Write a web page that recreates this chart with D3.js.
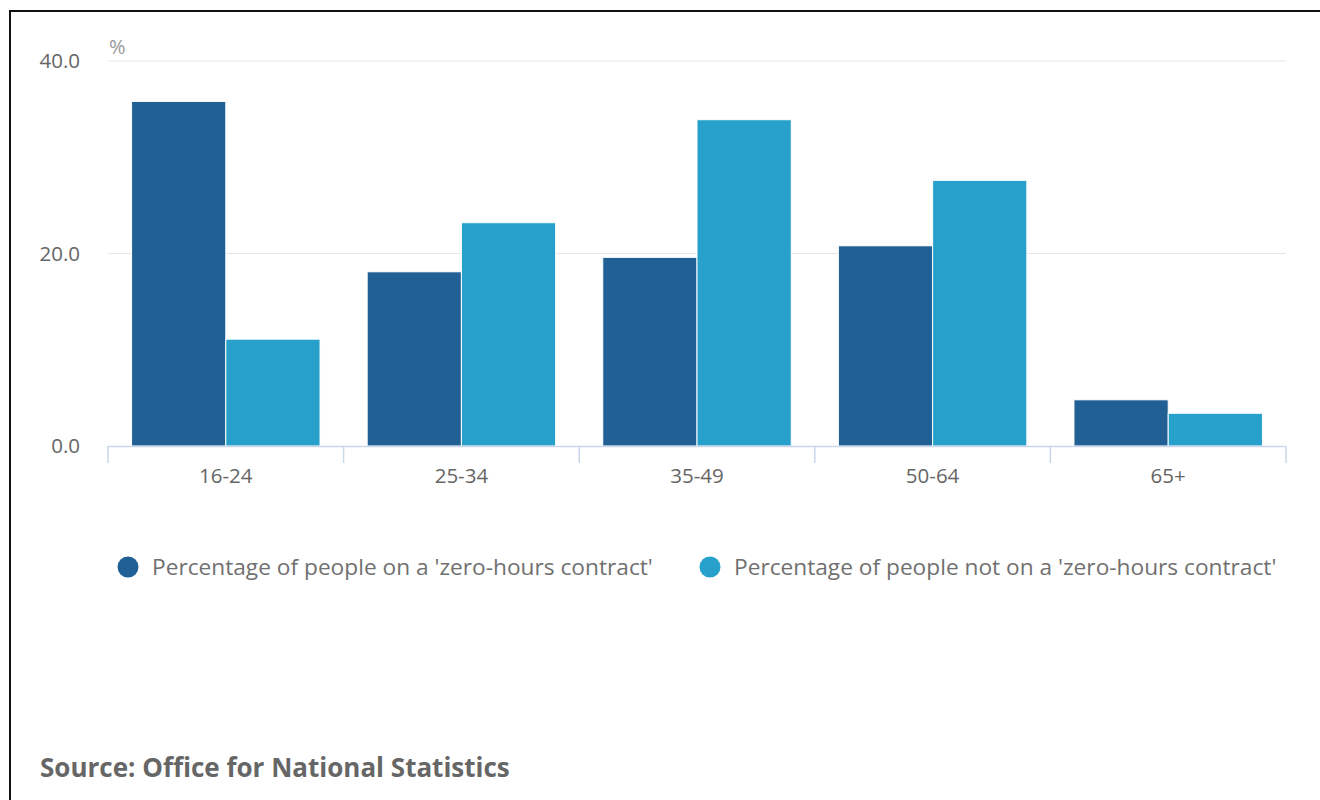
<!DOCTYPE html>
<html>
<head>
<meta charset="utf-8">
<script src="https://cdn.jsdelivr.net/npm/d3@7"></script>
<style>
  html, body { margin: 0; padding: 0; background: #fff; }
  svg { display: block; font-family: "Open Sans", sans-serif; }
</style>
</head>
<body>
<svg id="chart" width="1320" height="800"></svg>
<script>
const categories = ["16-24", "25-34", "35-49", "50-64", "65+"];
const seriesNames = [
  "Percentage of people on a 'zero-hours contract'",
  "Percentage of people not on a 'zero-hours contract'"
];
const zeroHours = [35.8, 18.1, 19.6, 20.8, 4.8];
const notZeroHours = [11.1, 23.2, 33.9, 27.6, 3.4];
const yTicks = [0, 20, 40];
const colors = ["#206095", "#27a0cc"];
const unitLabel = "%";
const sourceText = "Source: Office for National Statistics";

const svg = d3.select("#chart");
const W = 1320, H = 800;
const plot = { left: 108, right: 1286, top: 61, bottom: 446 };

// container border
svg.append("path")
  .attr("d", `M10,${H} L10,11 L${W},11`)
  .attr("fill", "none").attr("stroke", "#111").attr("stroke-width", 2);

const x0 = d3.scaleBand().domain(categories).range([plot.left, plot.right]).padding(0);
const bw = x0.bandwidth();
const x1 = d3.scaleBand().domain([0, 1]).range([bw * 0.1, bw * 0.9]).padding(0);
const y = d3.scaleLinear().domain([0, 40]).range([plot.bottom, plot.top]);

// gridlines
svg.append("g").selectAll("line").data(yTicks.filter(d => d !== 0)).join("line")
  .attr("x1", plot.left).attr("x2", plot.right)
  .attr("y1", d => y(d)).attr("y2", d => y(d))
  .attr("stroke", "#e6e6e6").attr("stroke-width", 1);

// y tick labels
svg.append("g").selectAll("text").data(yTicks).join("text")
  .attr("x", 80).attr("y", d => y(d) + 2)
  .attr("text-anchor", "end").attr("dominant-baseline", "middle")
  .attr("fill", "#666").attr("font-size", 20.5)
  .text(d => d3.format(".1f")(d));

svg.append("text").attr("x", 109).attr("y", 54)
  .attr("fill", "#999").attr("font-size", 20).text(unitLabel);

// bars
const data = categories.map((c, i) => ({ cat: c, vals: [zeroHours[i], notZeroHours[i]] }));
const groups = svg.append("g").selectAll("g").data(data).join("g")
  .attr("transform", d => `translate(${x0(d.cat)},0)`);
groups.selectAll("rect").data(d => d.vals.map((v, k) => ({ v, k }))).join("rect")
  .attr("x", d => x1(d.k)).attr("width", x1.bandwidth())
  .attr("y", d => y(d.v)).attr("height", d => y(0) - y(d.v))
  .attr("fill", d => colors[d.k])
  .attr("stroke", "#fff").attr("stroke-width", 1);

// x axis
const xAxis = svg.append("g");
xAxis.append("line").attr("x1", plot.left).attr("x2", plot.right)
  .attr("y1", plot.bottom + 0.5).attr("y2", plot.bottom + 0.5)
  .attr("stroke", "#ccd6eb").attr("stroke-width", 1.5);
const tickPos = categories.map(c => x0(c)).concat([plot.right]);
xAxis.selectAll("line.tick").data(tickPos).join("line").attr("class", "tick")
  .attr("x1", d => d).attr("x2", d => d)
  .attr("y1", plot.bottom).attr("y2", plot.bottom + 17)
  .attr("stroke", "#ccd6eb").attr("stroke-width", 1.5);
xAxis.selectAll("text").data(categories).join("text")
  .attr("x", d => x0(d) + bw / 2).attr("y", 478)
  .attr("text-anchor", "middle").attr("dominant-baseline", "middle")
  .attr("fill", "#666").attr("font-size", 20.5)
  .text(d => d);

// legend
const legendItems = [
  { cx: 128, tx: 152 },
  { cx: 710, tx: 734 }
];
const lg = svg.append("g").selectAll("g").data(seriesNames).join("g");
lg.append("circle").attr("cx", (d, i) => legendItems[i].cx).attr("cy", 567)
  .attr("r", 10.5).attr("fill", (d, i) => colors[i]);
lg.append("text").attr("x", (d, i) => legendItems[i].tx).attr("y", 569)
  .attr("dominant-baseline", "middle").attr("fill", "#707070").attr("font-size", 22.7)
  .text(d => d);

// source
svg.append("text").attr("x", 40).attr("y", 770)
  .attr("dominant-baseline", "middle").attr("fill", "#666")
  .attr("font-size", 26).attr("font-weight", "bold")
  .text(sourceText);
</script>
</body>
</html>
